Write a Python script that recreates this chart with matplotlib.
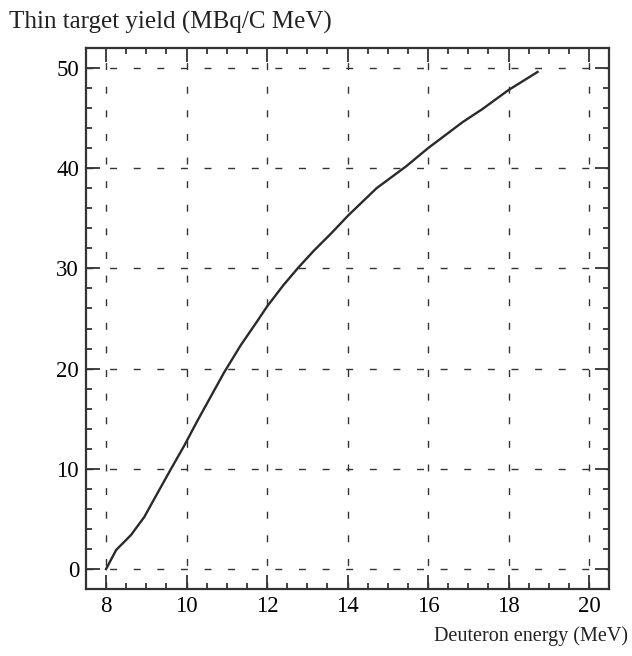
import matplotlib
matplotlib.use("Agg")
import matplotlib.pyplot as plt
from matplotlib.ticker import MultipleLocator

plt.rcParams['font.family'] = ['Liberation Serif', 'DejaVu Serif']

# excitation curve, deuteron energy vs thin target yield
energy = [8.0, 8.25, 8.62, 8.95, 9.28, 9.6, 9.94, 10.27, 10.6, 10.93, 11.34,
          11.75, 12.0, 12.4, 12.78, 13.17, 13.57, 14.02, 14.72, 15.46, 16.0,
          16.86, 17.35, 18.0, 18.72]
yield_ = [0.0, 1.9, 3.4, 5.2, 7.6, 9.9, 12.3, 14.8, 17.2, 19.6, 22.3,
          24.7, 26.2, 28.3, 30.1, 31.8, 33.4, 35.3, 38.0, 40.2, 42.0,
          44.6, 45.9, 47.8, 49.6]

x_ticks = [8, 10, 12, 14, 16, 18, 20]
y_ticks = [0, 10, 20, 30, 40, 50]

fig = plt.figure(figsize=(6.32, 6.56), dpi=100)
ax = fig.add_axes([0.136, 0.102, 0.828, 0.825])

ax.plot(energy, yield_, color='#2a2a2a', lw=1.7)

ax.set_xlim(7.5, 20.5)
ax.set_ylim(-2, 52)
ax.set_xticks(x_ticks)
ax.set_yticks(y_ticks)
ax.xaxis.set_minor_locator(MultipleLocator(0.5))
ax.yaxis.set_minor_locator(MultipleLocator(2))
ax.tick_params(which='both', direction='in', top=True, right=True,
               labelsize=16.5, color='#333333', width=1.3)
ax.tick_params(which='major', length=10, pad=5)
ax.tick_params(which='minor', length=4)

for s in ax.spines.values():
    s.set_linewidth(1.6)
    s.set_color('#333333')

ax.grid(True, which='major', color='#333333', lw=1.0, linestyle=(0, (5, 12)))

fig.text(0.015, 0.966, 'Thin target yield (MBq/C MeV)', fontsize=18,
         ha='left', va='center', color='#222222')
fig.text(0.993, 0.03, 'Deuteron energy (MeV)', fontsize=14.5,
         ha='right', va='center', color='#222222')

plt.savefig("out.png", dpi=100)
